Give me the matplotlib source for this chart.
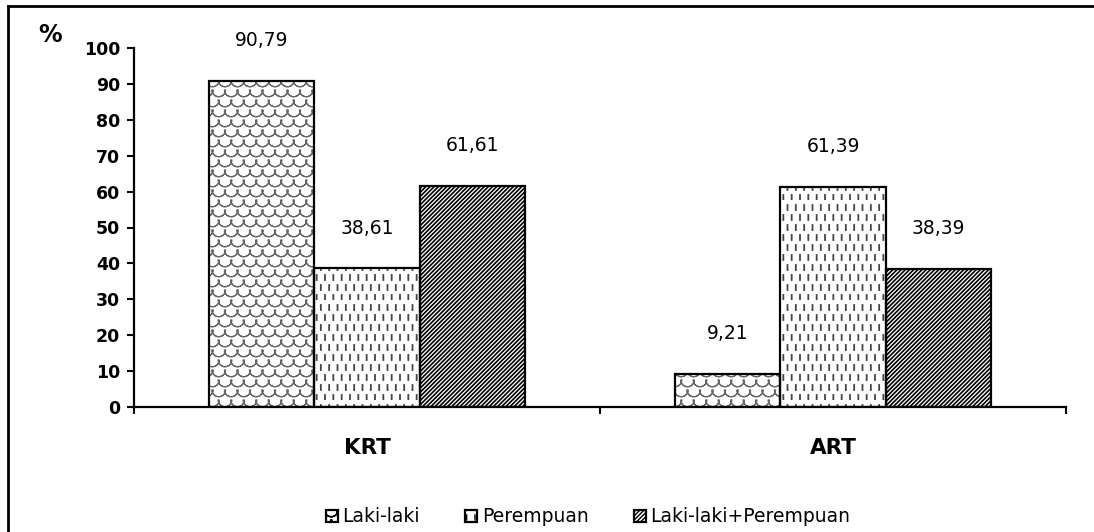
import numpy as np
import matplotlib
matplotlib.use("Agg")
import matplotlib.pyplot as plt
import matplotlib.hatch as mhatch
from matplotlib.path import Path
from matplotlib.patches import Patch
from matplotlib.lines import Line2D

# ---------------- data ----------------
categories = ["KRT", "ART"]
series_names = ["Laki-laki", "Perempuan", "Laki-laki+Perempuan"]
laki = [90.79, 9.21]
perempuan = [38.61, 61.39]
gabungan = [61.61, 38.39]
value_labels = [["90,79", "9,21"], ["38,61", "61,39"], ["61,61", "38,39"]]
yticks = [0, 10, 20, 30, 40, 50, 60, 70, 80, 90, 100]


# ---------------- custom hatches ----------------
class ScaleHatch(mhatch.HatchPatternBase):
    """Fish-scale arcs (thin crescents), triggered by 'o'."""
    def __init__(self, hatch, density):
        n = hatch.count('o')
        self.ncols = 8 * n
        self.nrows = 10 * n
        arc = Path.arc(180, 360)
        self.arc_v = arc.vertices
        self.arc_c = arc.codes
        self.k = 2 * len(self.arc_v) + 1
        if n:
            self.num_vertices = (self.nrows + 3) * (self.ncols + 3) * self.k
        else:
            self.num_vertices = 0

    def set_vertices_and_codes(self, vertices, codes):
        r = 0.5 / self.ncols
        m = len(self.arc_v)
        outer = self.arc_v * r * 1.1
        inner = (self.arc_v * r * 1.1 * 0.96)[::-1]
        inner_codes = self.arc_c.copy()
        inner_codes[0] = Path.LINETO
        idx = 0
        for j in range(-1, self.nrows + 2):
            cy = j / self.nrows
            off = r if j % 2 else 0.0
            for i in range(-1, self.ncols + 2):
                cx = i / self.ncols + off
                vertices[idx:idx + m] = outer + [cx, cy]
                codes[idx:idx + m] = self.arc_c
                vertices[idx + m:idx + 2 * m] = inner + [cx, cy]
                codes[idx + m:idx + 2 * m] = inner_codes
                vertices[idx + 2 * m] = outer[0] + [cx, cy]
                codes[idx + 2 * m] = Path.CLOSEPOLY
                idx += self.k


class DashHatch(mhatch.HatchPatternBase):
    """Short vertical dashes in staggered rows, triggered by '|'."""
    def __init__(self, hatch, density):
        n = hatch.count('|')
        self.ncols = 12 * n
        self.nrows = 10 * n
        self.num_vertices = (self.ncols + 1) * self.nrows * 2 if n else 0

    def set_vertices_and_codes(self, vertices, codes):
        idx = 0
        dl = 0.05
        for j in range(self.nrows):
            y0 = j / self.nrows
            off = 0.5 / self.ncols if j % 2 else 0.0
            for i in range(self.ncols + 1):
                xx = i / self.ncols + off
                vertices[idx] = [xx, y0]
                vertices[idx + 1] = [xx, y0 + dl]
                codes[idx] = Path.MOVETO
                codes[idx + 1] = Path.LINETO
                idx += 2


new_types = []
for t in mhatch._hatch_types:
    if t is mhatch.SmallCircles:
        new_types.append(ScaleHatch)
    elif t is mhatch.VerticalHatch:
        new_types.append(DashHatch)
    else:
        new_types.append(t)
mhatch._hatch_types[:] = new_types

plt.rcParams['font.family'] = ['DejaVu Sans']

W, H = 1094, 532
fig = plt.figure(figsize=(W / 100, H / 100), dpi=100)
ax = fig.add_axes([134 / W, 1 - 407 / H, (1066 - 134) / W, (407 - 48) / H])

x = np.arange(len(categories))
bw = 0.2256
offsets = [-bw, 0.0, bw]
series = [laki, perempuan, gabungan]
hatches = ['o', '|', '////////']
hatch_colors = ['#666666', '#444444', '#000000']
hatch_lws = [0.8, 1.3, 1.2]

for k, (vals, h, hc, hlw) in enumerate(zip(series, hatches, hatch_colors, hatch_lws)):
    with plt.rc_context({'hatch.linewidth': hlw}):
        ax.bar(x + offsets[k], vals, bw, color='white', edgecolor=hc,
               hatch=h, linewidth=0, zorder=2)
    ax.bar(x + offsets[k], vals, bw, fill=False, edgecolor='black',
           linewidth=1.6, zorder=3)
    for xi, v, lab in zip(x + offsets[k], vals, value_labels[k]):
        ax.annotate(lab, (xi, v), xytext=(0, 29), textcoords='offset points',
                    ha='center', va='center', fontsize=13.5)

ax.set_ylim(0, 100)
ax.set_xlim(-0.5, 1.5)
ax.set_yticks(yticks)
ax.set_yticklabels([str(t) for t in yticks], fontsize=12.5, fontweight='bold')
ax.tick_params(axis='y', direction='out', length=5, width=1.5, pad=5)

ax.set_xticks(x)
ax.set_xticklabels(categories, fontsize=15.5, fontweight='bold')
ax.set_xticks([-0.5, 0.5, 1.5], minor=True)
ax.tick_params(axis='x', which='major', length=0, pad=22)
ax.tick_params(axis='x', which='minor', direction='out', length=5, width=1.5)

for s in ['top', 'right']:
    ax.spines[s].set_visible(False)
for s in ['left', 'bottom']:
    ax.spines[s].set_linewidth(1.6)

fig.text(50 / W, 1 - 35 / H, '%', fontsize=17, fontweight='bold',
         ha='center', va='center')

# legend
handles = []
for h, hc in zip(hatches, hatch_colors):
    handles.append(Patch(facecolor='white', edgecolor='black', hatch=h,
                         linewidth=1.6))
fig.legend(handles, series_names, loc='center', ncol=3, frameon=False,
           bbox_to_anchor=(588 / W, 1 - 517 / H), fontsize=13.5,
           handlelength=0.65, handleheight=0.65, handletextpad=0.25,
           columnspacing=2.4)

# outer frame (top and left edges visible)
fig.add_artist(Line2D([8 / W, 8 / W], [0, 1 - 6 / H], transform=fig.transFigure,
                      color='black', linewidth=2))
fig.add_artist(Line2D([8 / W, 1], [1 - 6 / H, 1 - 6 / H], transform=fig.transFigure,
                      color='black', linewidth=2))

fig.savefig('out.png', dpi=100)
